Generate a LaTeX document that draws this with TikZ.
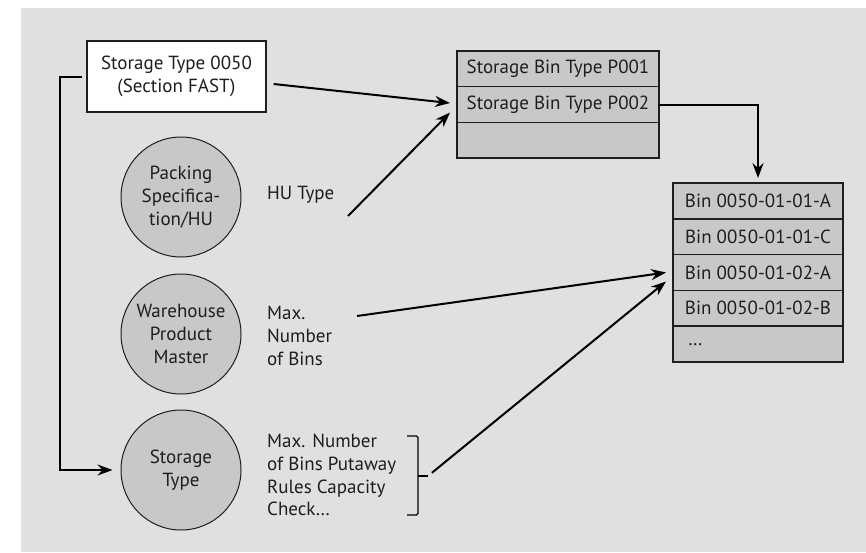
\documentclass[tikz,border=0pt]{standalone}
\usepackage{fontspec}
\setmainfont{PT Sans}
\usetikzlibrary{arrows.meta,positioning}
\definecolor{bggray}{HTML}{E0E0E0}
\definecolor{boxgray}{HTML}{C8C8C8}
\definecolor{ink}{HTML}{1E1E1E}
\tikzset{
    row/.style = {draw = ink, line width = 1.4pt, fill = boxgray, inner sep = 0pt, outer sep = 0pt, minimum height = 35.7pt},
    src/.style = {draw = ink, line width = 1pt, fill = boxgray, circle, minimum size = 120pt, inner sep = 0pt, align = center},
    lbl/.style = {anchor = west, align = left, inner sep = 0pt},
    arr/.style = {line width = 2pt, draw = black, -{Stealth[length = 15pt, width = 11pt, inset = 5pt]}}
}
\begin{document}
\begin{tikzpicture}[x = 1pt, y = -1pt, node font = \fontsize{19}{22.7}\selectfont, text = ink]
    \useasboundingbox (0,0) rectangle (866,552);
    \fill [bggray] (21,8) rectangle (866,552);
    \node [draw = ink, line width = 1.4pt, fill = white, minimum width = 179pt, minimum height = 71pt, inner sep = 0pt, align = center] (st0050) at (176.5,76.5) {Storage Type 0050\\(Section FAST)};
    \foreach \i/\text in {1/Storage Bin Type P001,2/Storage Bin Type P002,3/}
        \node [row, minimum width = 202pt] (bt\i) at (558,{51+35.7*(\i-0.5)}) {\text};
    \foreach \i/\text in {1/Bin 0050-01-01-A,2/Bin 0050-01-01-C,3/Bin 0050-01-02-A,4/Bin 0050-01-02-B}
        \node [row, minimum width = 170pt] (bin\i) at (758,{183+35.8*(\i-0.5)}) {\text};
    \node [row, minimum width = 170pt, text width = 140pt, inner xsep = 15pt, align = left] (bin5) at (758,{183+35.8*4.5}) {\raisebox{-4pt}{…}};
    \node [src] (pack) at (181,197) {Packing\\Specifica-\\tion/HU};
    \node [src] (whpm) at (181,334) {Warehouse\\Product\\Master};
    \node [src] (stype) at (181,470) {Storage\\Type};
    \node [lbl] (hutype) at (267,195) {HU Type};
    \node [lbl] (maxbins) at (267,336) {Max.\\Number\\of Bins};
    \node [lbl] (rules) at (267,475) {Max. Number\\of Bins Putaway\\Rules Capacity\\Check…};
    \coordinate (hutail) at (348,216);
    \coordinate (maxtail) at (357,316);
    \draw [line width = 1.3pt, rounded corners = 1.5pt] (407,436) -- (418,436) -- (418,515) -- (407,515);
    \draw [line width = 1.3pt] (418,476) -- (428,476) coordinate (brace);
    \draw [arr] ([shift = {(7,7.5)}]st0050.east) -- ([shift = {(-7,-1.5)}]bt2.west);
    \draw [arr] (hutail) -- ([shift = {(-7,8)}]bt2.west);
    \draw [arr, shorten > = 5pt] (bt2.east) -| (bin1.north);
    \draw [arr] (maxtail) -- ([xshift = -7pt]bin3.west);
    \draw [arr, shorten < = 5pt] (brace) -- ([shift = {(-7,9)}]bin3.west);
    \draw [arr, shorten > = 8pt] ([xshift = -4pt]st0050.west) -- ++(-22,0) |- (stype.west);
\end{tikzpicture}
\end{document}
